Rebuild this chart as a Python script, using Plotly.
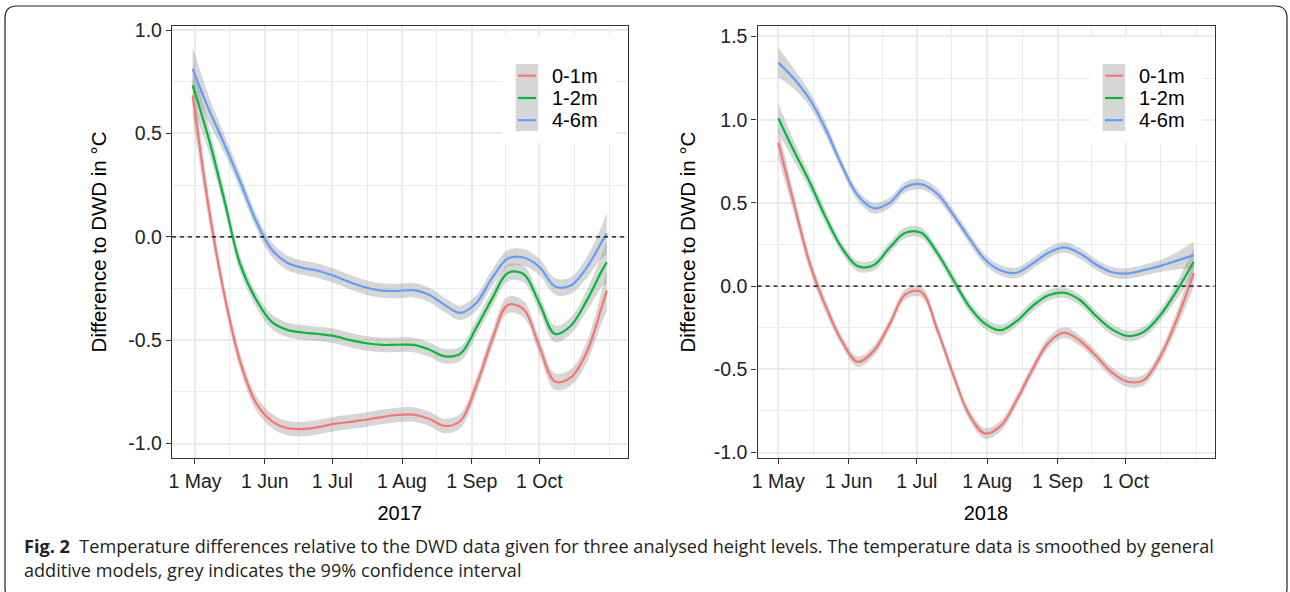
import plotly.graph_objects as go
import pandas as pd

# weekly readings of the GAM smooths, difference to DWD in deg C
dates_2017 = ["2017-04-30", "2017-05-07", "2017-05-14", "2017-05-21", "2017-05-28", "2017-06-04",
              "2017-06-11", "2017-06-18", "2017-06-25", "2017-07-02", "2017-07-09", "2017-07-16",
              "2017-07-23", "2017-07-30", "2017-08-06", "2017-08-13", "2017-08-20", "2017-08-27",
              "2017-09-03", "2017-09-10", "2017-09-17", "2017-09-24", "2017-10-01", "2017-10-08",
              "2017-10-15", "2017-10-22", "2017-10-29", "2017-10-31"]
m01_2017 = [0.684, 0.15, -0.276, -0.60, -0.80, -0.89, -0.925, -0.93, -0.92, -0.905, -0.895, -0.885,
            -0.872, -0.862, -0.86, -0.88, -0.915, -0.89, -0.72, -0.50, -0.33, -0.35, -0.53, -0.70,
            -0.68, -0.56, -0.33, -0.26]
m12_2017 = [0.733, 0.48, 0.18, -0.13, -0.30, -0.41, -0.45, -0.463, -0.47, -0.48, -0.50, -0.515,
            -0.523, -0.522, -0.523, -0.545, -0.578, -0.565, -0.44, -0.30, -0.175, -0.18, -0.32, -0.47,
            -0.43, -0.31, -0.16, -0.123]
m46_2017 = [0.813, 0.62, 0.45, 0.27, 0.08, -0.06, -0.125, -0.15, -0.165, -0.19, -0.22, -0.245,
            -0.26, -0.262, -0.258, -0.28, -0.33, -0.368, -0.32, -0.20, -0.105, -0.10, -0.145, -0.24,
            -0.235, -0.15, -0.02, 0.015]
ci_2017 = [0.105, 0.065, 0.045, 0.04, 0.035, 0.035, 0.035, 0.035, 0.035, 0.035, 0.035, 0.035,
           0.035, 0.035, 0.035, 0.035, 0.035, 0.035, 0.038, 0.04, 0.04, 0.04, 0.04, 0.04,
           0.04, 0.05, 0.08, 0.1]

dates_2018 = ["2018-05-01", "2018-05-08", "2018-05-15", "2018-05-22", "2018-05-29", "2018-06-05",
              "2018-06-12", "2018-06-19", "2018-06-26", "2018-07-03", "2018-07-10", "2018-07-17",
              "2018-07-24", "2018-07-31", "2018-08-07", "2018-08-14", "2018-08-21", "2018-08-28",
              "2018-09-04", "2018-09-11", "2018-09-18", "2018-09-25", "2018-10-02", "2018-10-09",
              "2018-10-16", "2018-10-23", "2018-10-31"]
m01_2018 = [0.862, 0.49, 0.13, -0.125, -0.33, -0.455, -0.39, -0.23, -0.05, -0.035, -0.26, -0.53,
            -0.77, -0.885, -0.84, -0.685, -0.50, -0.34, -0.28, -0.33, -0.42, -0.52, -0.575, -0.565,
            -0.43, -0.22, 0.076]
m12_2018 = [1.009, 0.81, 0.62, 0.41, 0.23, 0.12, 0.125, 0.23, 0.32, 0.32, 0.20, 0.04,
            -0.12, -0.225, -0.265, -0.21, -0.12, -0.055, -0.04, -0.085, -0.18, -0.26, -0.30, -0.275,
            -0.18, -0.04, 0.146]
m46_2018 = [1.343, 1.245, 1.12, 0.94, 0.725, 0.545, 0.468, 0.50, 0.595, 0.612, 0.555, 0.43,
            0.29, 0.16, 0.094, 0.08, 0.135, 0.20, 0.233, 0.195, 0.13, 0.083, 0.076, 0.096,
            0.12, 0.15, 0.186]
ci_2018 = [0.09, 0.06, 0.045, 0.04, 0.032, 0.032, 0.032, 0.032, 0.032, 0.032, 0.032, 0.032,
           0.032, 0.032, 0.032, 0.032, 0.032, 0.032, 0.032, 0.032, 0.032, 0.032, 0.032, 0.032,
           0.035, 0.05, 0.08]

series_names = ["0-1m", "1-2m", "4-6m"]
series_colors = ["#F8766D", "#00BA38", "#619CFF"]
tick_labels = ["1 May", "1 Jun", "1 Jul", "1 Aug", "1 Sep", "1 Oct"]
yticks_2017 = [-1.0, -0.5, 0.0, 0.5, 1.0]
yticks_2018 = [-1.0, -0.5, 0.0, 0.5, 1.0, 1.5]

W, H = 1290, 592
AX = "Liberation Sans, Arial, sans-serif"
px = lambda v: v / W
py = lambda v: 1 - v / H

fig = go.Figure()


def add_panel(dates, values, ci, xa, ya):
    # ribbons first, then the smooth lines on top
    for vals in values:
        lo = [v - c for v, c in zip(vals, ci)]
        hi = [v + c for v, c in zip(vals, ci)]
        fig.add_trace(go.Scatter(x=dates, y=lo, mode="lines", line=dict(width=0, shape="spline"),
                                 hoverinfo="skip", showlegend=False, xaxis=xa, yaxis=ya))
        fig.add_trace(go.Scatter(x=dates, y=hi, mode="lines", line=dict(width=0, shape="spline"),
                                 fill="tonexty", fillcolor="rgba(153,153,153,0.4)",
                                 hoverinfo="skip", showlegend=False, xaxis=xa, yaxis=ya))
    for vals, name, col in zip(values, series_names, series_colors):
        fig.add_trace(go.Scatter(x=dates, y=vals, mode="lines", name=name, showlegend=False,
                                 line=dict(color=col, width=2.2, shape="spline"),
                                 xaxis=xa, yaxis=ya))


add_panel(dates_2017, [m01_2017, m12_2017, m46_2017], ci_2017, "x", "y")
add_panel(dates_2018, [m01_2018, m12_2018, m46_2018], ci_2018, "x2", "y2")


def x_axis(dates, year, left, right, anchor):
    d = pd.to_datetime(dates)
    pad = (d.max() - d.min()) * 0.05
    months = pd.date_range(f"{year}-05-01", periods=7, freq="MS")
    major = months[:6]
    minor = [str(m) for m in list(months[:-1] + (months[1:] - months[:-1]) / 2) + [months[-1]]]
    return dict(
        type="date", domain=[left / W, right / W], range=[str(d.min() - pad), str(d.max() + pad)],
        anchor=anchor, automargin=False,
        tickmode="array", tickvals=[str(m) for m in major], ticktext=tick_labels,
        ticks="outside", ticklen=5, tickwidth=1.3, tickcolor="#333333",
        showgrid=True, gridcolor="#EBEBEB", gridwidth=1.6,
        minor=dict(tickmode="array", tickvals=minor, showgrid=True, gridcolor="#EBEBEB",
                   gridwidth=1, ticks=""),
        showline=True, mirror=True, linecolor="#333333", linewidth=1.3,
        tickfont=dict(family=AX, size=19.5, color="#222222"),
        title=dict(text=str(year), font=dict(family=AX, size=20, color="#000000"), standoff=15),
        zeroline=False,
    )


def y_axis(rng, ticks, anchor, standoff):
    return dict(
        domain=[1 - 458 / H, 1 - 26 / H], range=rng, anchor=anchor, automargin=False,
        tickmode="array", tickvals=ticks, ticktext=[f"{v:.1f}" for v in ticks],
        ticks="outside", ticklen=5, tickwidth=1.3, tickcolor="#333333",
        showgrid=True, gridcolor="#EBEBEB", gridwidth=1.6,
        minor=dict(dtick=0.25, tick0=0, showgrid=True, gridcolor="#EBEBEB", gridwidth=1, ticks=""),
        showline=True, mirror=True, linecolor="#333333", linewidth=1.3, zeroline=False,
        tickfont=dict(family=AX, size=19.5, color="#222222"),
        title=dict(text="Difference to DWD in °C", font=dict(family=AX, size=20.5, color="#000000"),
                   standoff=standoff),
    )


shapes = []
annotations = []
# dashed reference line at zero in both panels
for xr, yr in (("x domain", "y"), ("x2 domain", "y2")):
    shapes.append(dict(type="line", xref=xr, yref=yr, x0=0, x1=1, y0=0, y1=0, layer="above",
                       line=dict(color="#000000", width=1.1, dash="4px,4px")))

# ggplot style legend inside each panel: white box, grey key column, coloured key lines
row_y = [75.7, 98, 120.2]
for box_x, key_x, text_x in ((502.5, 515.7, 549.8), (1089.5, 1102.7, 1137.3)):
    shapes.append(dict(type="rect", xref="paper", yref="paper", x0=px(box_x), x1=px(box_x + 113),
                       y0=py(143), y1=py(37), layer="above",
                       fillcolor="#FFFFFF", line=dict(width=0)))
    shapes.append(dict(type="rect", xref="paper", yref="paper", x0=px(key_x), x1=px(key_x + 22.5),
                       y0=py(131), y1=py(64), layer="above",
                       fillcolor="#D6D6D6", line=dict(width=0)))
    for name, col, ry in zip(series_names, series_colors, row_y):
        shapes.append(dict(type="line", xref="paper", yref="paper", x0=px(key_x + 2.3),
                           x1=px(key_x + 20.2), y0=py(ry), y1=py(ry), layer="above",
                           line=dict(color=col, width=2.2)))
        annotations.append(dict(text=name, xref="paper", yref="paper", x=px(text_x), y=py(ry),
                                xanchor="left", yanchor="middle", showarrow=False,
                                font=dict(family=AX, size=20, color="#000000")))

# rounded frame around the whole figure
l, r, t, b, rad = 5, 1287, 6, 600, 12
path = (f"M {px(l + rad)},{py(t)} L {px(r - rad)},{py(t)} Q {px(r)},{py(t)} {px(r)},{py(t + rad)} "
        f"L {px(r)},{py(b - rad)} Q {px(r)},{py(b)} {px(r - rad)},{py(b)} "
        f"L {px(l + rad)},{py(b)} Q {px(l)},{py(b)} {px(l)},{py(b - rad)} "
        f"L {px(l)},{py(t + rad)} Q {px(l)},{py(t)} {px(l + rad)},{py(t)} Z")
shapes.append(dict(type="path", xref="paper", yref="paper", path=path, layer="above",
                   line=dict(color="#222222", width=1.2)))

caption = ("<b>Fig. 2</b>  Temperature differences relative to the DWD data given for three analysed "
           "height levels. The temperature data is smoothed by general<br>additive models, grey "
           "indicates the 99% confidence interval")
annotations.append(dict(text=caption, xref="paper", yref="paper", x=px(22), y=py(558),
                        xanchor="left", yanchor="middle", align="left", showarrow=False,
                        font=dict(family="Open Sans, sans-serif", size=18.1, color="#231F20")))

fig.update_layout(
    width=W, height=H, margin=dict(l=0, r=0, t=0, b=0, autoexpand=False),
    paper_bgcolor="#FFFFFF", plot_bgcolor="#FFFFFF", showlegend=False,
    xaxis=x_axis(dates_2017, 2017, 172, 627.5, "y"),
    yaxis=y_axis([-1.07, 1.02], yticks_2017, "x", 16),
    xaxis2=x_axis(dates_2018, 2018, 757.5, 1214.5, "y2"),
    yaxis2=y_axis([-1.033, 1.563], yticks_2018, "x2", 12),
    shapes=shapes,
    annotations=annotations,
)

fig.write_html("out.html", config={"displayModeBar": False},
               post_script="document.body.style.margin='0';")
